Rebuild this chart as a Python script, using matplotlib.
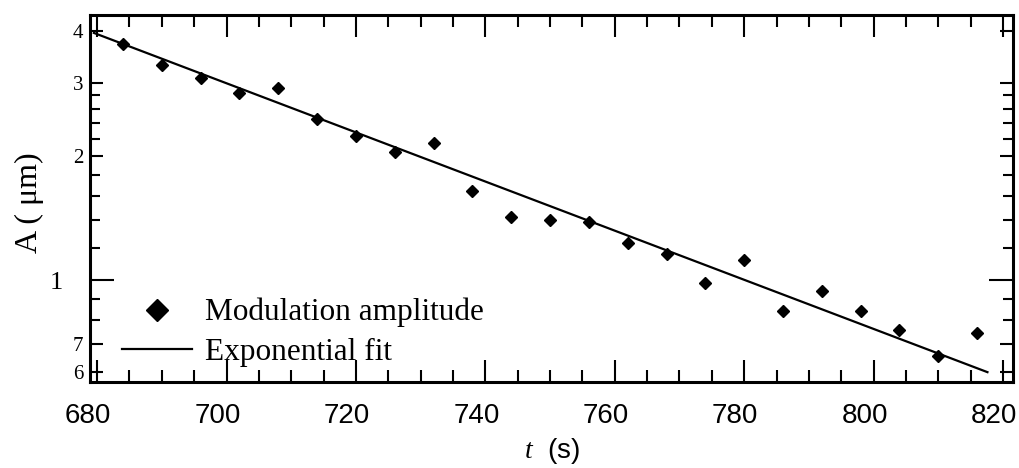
import numpy as np
import matplotlib.pyplot as plt
from matplotlib.ticker import NullFormatter
from matplotlib.transforms import ScaledTranslation

# data
t_data = [684, 690, 696, 702, 708, 714, 720, 726, 732, 738, 744, 750,
          756, 762, 768, 774, 780, 786, 792, 798, 804, 810, 816]
amp_data = [3.72, 3.32, 3.09, 2.83, 2.91, 2.45, 2.23, 2.04, 2.15, 1.64, 1.42, 1.40,
            1.38, 1.23, 1.155, 0.983, 1.12, 0.844, 0.942, 0.844, 0.758, 0.657, 0.745]

# exponential fit: straight line on the log axis, end points
fit_t = [679.5, 817.6]
fit_amp = [3.96, 0.60]

xticks_major = [680, 700, 720, 740, 760, 780, 800, 820]
xtick_labels = ['680', '700', '720', '740', '760', '780', '800', '820']
yticks_major = [0.6, 0.7, 1, 2, 3, 4]
ytick_labels = ['6', '7', '1', '2', '3', '4']
yticks_minor = [0.8, 0.9, 1.2, 1.4, 1.6, 1.8, 2.2, 2.4, 2.6, 2.8]

plt.rcParams['font.family'] = 'Liberation Serif'
plt.rcParams['mathtext.fontset'] = 'custom'
plt.rcParams['mathtext.it'] = 'Liberation Serif:italic'
plt.rcParams['mathtext.rm'] = 'Liberation Serif'

fig = plt.figure(figsize=(10.2, 4.68), dpi=100)
ax = fig.add_axes([90/1020, 1 - 382/468, 923/1020, 367/468])

ax.plot(t_data, amp_data, 'D', color='black', markersize=5.8, label='Modulation amplitude')
ax.plot(fit_t, fit_amp, '-', color='black', lw=1.6, label='Exponential fit')

ax.set_yscale('log')
ax.set_xlim(678.9, 821.55)
ax.set_ylim(0.568, 4.375)

ax.set_xticks(xticks_major)
ax.set_xticklabels(xtick_labels, fontfamily='Liberation Sans', fontsize=20)
ax.set_xticks(np.arange(680, 821, 5), minor=True)

ax.set_yticks(yticks_major)
ax.set_yticklabels(ytick_labels, fontsize=15)
ax.set_yticks(yticks_minor, minor=True)
ax.yaxis.set_minor_formatter(NullFormatter())

for s in ax.spines.values():
    s.set_linewidth(2.2)

ax.tick_params(which='both', direction='in', top=True, right=True, width=1.5, color='black')
ax.tick_params(axis='x', which='major', length=16, pad=15)
ax.tick_params(axis='x', which='minor', length=8.6)
ax.tick_params(axis='y', which='major', length=9.4, pad=5)
ax.tick_params(axis='y', which='minor', length=7)

# the tick at 1 is longer and its label is bigger and further out
ytk = ax.yaxis.get_major_ticks()
ytk[2].tick1line.set_markersize(17)
ytk[2].tick2line.set_markersize(17)
ylabs = ax.get_yticklabels()
ylabs[2].set_fontsize(19)
ylabs[2].set_transform(ylabs[2].get_transform() + ScaledTranslation(-0.2, 0, fig.dpi_scale_trans))

for lab in ax.get_xticklabels():
    lab.set_transform(lab.get_transform() + ScaledTranslation(-0.09, 0, fig.dpi_scale_trans))

ax.set_ylabel('A ( μm)', fontsize=23)
ax.yaxis.set_label_coords(-0.050, 0.489)
ax.set_xlabel(r'$t$  (s)', fontsize=20, fontfamily='Liberation Sans')
ax.xaxis.set_label_coords(0.5, -0.147)

ax.legend(loc='upper left', bbox_to_anchor=(0.0347, 0.229), frameon=False, fontsize=22.5,
          markerscale=2.0, handlelength=2.24, handletextpad=0.42, borderpad=0,
          borderaxespad=0, labelspacing=0.35)

fig.savefig('out.png', dpi=100)
